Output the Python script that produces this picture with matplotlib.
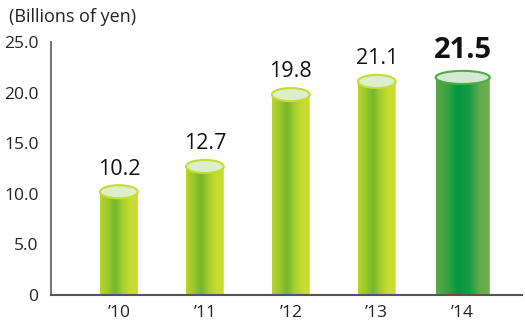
import numpy as np
import matplotlib
matplotlib.use("Agg")
from matplotlib import pyplot as plt
from matplotlib.path import Path
from matplotlib.patches import PathPatch, Ellipse
from matplotlib.colors import LinearSegmentedColormap

years = ["\u201910", "\u201911", "\u201912", "\u201913", "\u201914"]
values = [10.2, 12.7, 19.8, 21.1, 21.5]
labels = ["10.2", "12.7", "19.8", "21.1", "21.5"]
yticks = [0, 5, 10, 15, 20, 25]
yticklabels = ["0", "5.0", "10.0", "15.0", "20.0", "25.0"]

plt.rcParams['font.family'] = ['Open Sans', 'DejaVu Sans']

fig = plt.figure(figsize=(5.25, 3.22), dpi=100)
ax = fig.add_axes([51 / 525, 27 / 322, 471 / 525, 253 / 322])
ax.set_xlim(-0.79, 4.69)
ax.set_ylim(0, 25)

light = LinearSegmentedColormap.from_list(
    "light", ["#b8d430", "#9cc82c", "#74b82a", "#a8cf2e", "#c6dc30", "#c8dd32"])
dark = LinearSegmentedColormap.from_list(
    "dark", ["#5fa84a", "#3aa244", "#00983e", "#159c42", "#62ab4c", "#70b052"])
grad = np.linspace(0, 1, 256).reshape(1, -1)

eh = 1.3  # ellipse height in data units
for i, v in enumerate(values):
    last = i == len(values) - 1
    w = 0.63 if last else 0.44
    x0, x1 = i - w / 2, i + w / 2
    t = np.linspace(0, np.pi, 60)
    arc_x = i + (w / 2) * np.cos(t)
    arc_y = v - (eh / 2) * np.sin(t)
    verts = [(x0, 0), (x1, 0)] + list(zip(arc_x, arc_y)) + [(x0, 0)]
    codes = [Path.MOVETO] + [Path.LINETO] * (len(verts) - 2) + [Path.CLOSEPOLY]
    clip = PathPatch(Path(verts, codes), transform=ax.transData,
                     facecolor="none", edgecolor="none")
    ax.add_patch(clip)
    im = ax.imshow(grad, cmap=dark if last else light, aspect="auto",
                   extent=[x0, x1, 0, v + eh], zorder=2)
    im.set_clip_path(clip)
    rim = "#4fa84a" if last else "#c4dc36"
    top = "#d3ead0" if last else "#dcefca"
    ax.add_patch(Ellipse((i, v), w, eh, facecolor=top, edgecolor=rim,
                         linewidth=1.5, zorder=3))
    if last:
        ax.text(i, v + 1.2, labels[i], ha="center", va="bottom",
                fontsize=21, fontweight="bold", color="#111")
    else:
        ax.text(i, v + 1.2, labels[i], ha="center", va="bottom",
                fontsize=15.5, color="#111")

ax.set_xticks(range(len(years)))
ax.set_xticklabels(years, fontsize=12.5, color="#222")
ax.set_yticks(yticks)
ax.set_yticklabels(yticklabels, fontsize=12.5, color="#222")
ax.tick_params(length=0)
ax.tick_params(axis="x", pad=7)
ax.tick_params(axis="y", pad=9)
ax.spines["top"].set_visible(False)
ax.spines["right"].set_visible(False)
ax.spines["left"].set_color("#777")
ax.spines["left"].set_linewidth(1.5)
ax.spines["bottom"].set_color("#555")
ax.spines["bottom"].set_linewidth(1.5)

fig.text(9 / 525, 1 - 17 / 322, "(Billions of yen)", fontsize=13,
         color="#222", va="center", ha="left")

fig.savefig("out.png", dpi=100)
